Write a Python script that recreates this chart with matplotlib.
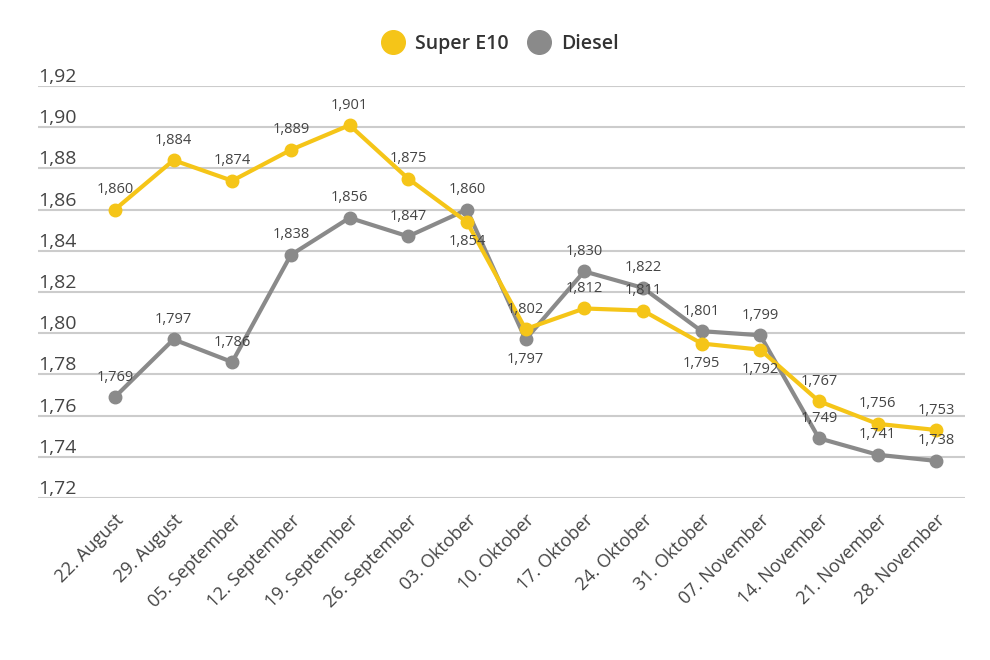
import matplotlib
matplotlib.use("Agg")
import matplotlib.pyplot as plt
import matplotlib.transforms as mtransforms
from matplotlib.lines import Line2D

plt.rcParams['font.family'] = ['Open Sans', 'DejaVu Sans']

dates = ["22. August", "29. August", "05. September", "12. September", "19. September",
         "26. September", "03. Oktober", "10. Oktober", "17. Oktober", "24. Oktober",
         "31. Oktober", "07. November", "14. November", "21. November", "28. November"]
super_e10 = [1.860, 1.884, 1.874, 1.889, 1.901, 1.875, 1.854, 1.802, 1.812, 1.811,
             1.795, 1.792, 1.767, 1.756, 1.753]
diesel = [1.769, 1.797, 1.786, 1.838, 1.856, 1.847, 1.860, 1.797, 1.830, 1.822,
          1.801, 1.799, 1.749, 1.741, 1.738]
# label placement: 1 above, -1 below
super_pos = [1, 1, 1, 1, 1, 1, -1, 1, 1, 1, -1, -1, 1, 1, 1]
diesel_pos = [1, 1, 1, 1, 1, 1, 1, -1, 1, 1, 1, 1, 1, 1, 1]
yticks = [1.72, 1.74, 1.76, 1.78, 1.80, 1.82, 1.84, 1.86, 1.88, 1.90, 1.92]

YELLOW = '#f5c518'
GREY = '#8a8a8a'
TEXT = '#444444'

fig = plt.figure(figsize=(9.9, 6.6), dpi=100)
ax = fig.add_axes([38/990, 1 - 498/660, (965-38)/990, (498-86)/660])

x = list(range(len(dates)))
ax.plot(x, diesel, color=GREY, lw=3, marker='o', ms=9, zorder=3)
ax.plot(x, super_e10, color=YELLOW, lw=3, marker='o', ms=9, zorder=4)

def fmt(v):
    return f"{v:.3f}".replace('.', ',')

for xi, v, p in zip(x, super_e10, super_pos):
    ax.annotate(fmt(v), (xi, v), xytext=(0, 9 * p), textcoords='offset points',
                ha='center', va='bottom' if p > 0 else 'top', fontsize=10.5, color=TEXT, zorder=6)
for xi, v, p in zip(x, diesel, diesel_pos):
    ax.annotate(fmt(v), (xi, v), xytext=(0, 9 * p), textcoords='offset points',
                ha='center', va='bottom' if p > 0 else 'top', fontsize=10.5, color=TEXT, zorder=6)

ax.set_xlim(-1.31, 14.49)
ax.set_ylim(1.72, 1.92)
ax.set_yticks(yticks)
ax.yaxis.grid(True, color='#cccccc', lw=1.5)
ax.set_axisbelow(True)
ax.tick_params(axis='y', left=False, labelleft=False)
trans = mtransforms.blended_transform_factory(ax.transAxes, ax.transData)
for t in yticks:
    ax.text(0.0, t, f"{t:.2f}".replace('.', ','), transform=trans, ha='left', va='bottom',
            fontsize=14, color=TEXT)

ax.set_xticks(x)
ax.set_xticklabels(dates, rotation=45, ha='right', rotation_mode='anchor', fontsize=13, color=TEXT)
ax.tick_params(axis='x', bottom=False, pad=6)
for s in ax.spines.values():
    s.set_visible(False)

handles = [Line2D([], [], ls='none', marker='o', ms=17, color=YELLOW),
           Line2D([], [], ls='none', marker='o', ms=17, color=GREY)]
fig.legend(handles, ["Super E10", "Diesel"], loc='center', bbox_to_anchor=(0.505, 1 - 44/660),
           ncol=2, frameon=False, handletextpad=0.5, columnspacing=1.0,
           labelcolor='#333333', handlelength=1.2,
           prop={'family': ['Open Sans', 'DejaVu Sans'], 'size': 14, 'weight': 'semibold'})

fig.savefig('out.png', dpi=100)
